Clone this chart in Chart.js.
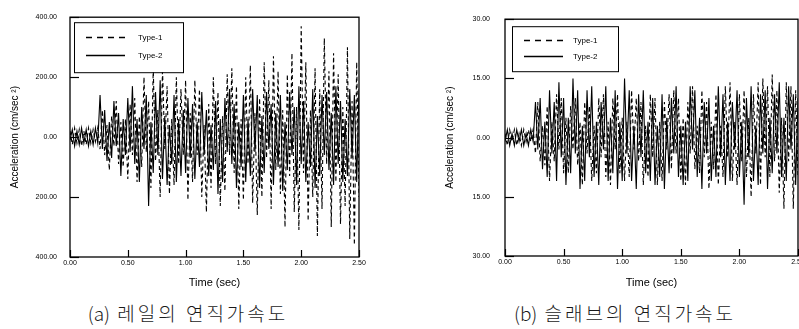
<!DOCTYPE html>
<html>
<head>
<meta charset="utf-8">
<script src="https://cdn.jsdelivr.net/npm/chart.js@4/dist/chart.umd.min.js"></script>
<style>
  html, body { margin: 0; padding: 0; background: #fff; }
  body { width: 799px; height: 329px; position: relative; overflow: hidden; }
  #wrapA { position: absolute; left: 0; top: 0; width: 400px; height: 290px; }
  #wrapB { position: absolute; left: 400px; top: 0; width: 399px; height: 290px; overflow: hidden; }
  .cap { position: absolute; top: 300px; font-family: "Noto Sans CJK KR", "Noto Sans", sans-serif;
         font-size: 19px; font-weight: 300; letter-spacing: 3px; color: #1a1a1a; text-align: center; white-space: nowrap; line-height: 26px; }
  .cap span { letter-spacing: 0; }
  #capA { left: 48px; width: 280px; }
  #capB { left: 485px; width: 280px; }
</style>
</head>
<body>
<div id="wrapA"><canvas id="chartA" width="400" height="290"></canvas></div>
<div id="wrapB"><canvas id="chartB" width="432" height="290"></canvas></div>
<div class="cap" id="capA"><span>(a)</span> 레일의 연직가속도</div>
<div class="cap" id="capB"><span>(b)</span> 슬래브의 연직가속도</div>
<script>
// ---- data (sampled every 0.02 s, 0.00 .. 2.50 s) ----
const timeStep = 0.02;
const seriesNames = ["Type-1", "Type-2"];
const xTickLabels = ["0.00", "0.50", "1.00", "1.50", "2.00", "2.50"];
const yTickLabelsA = ["400.00", "200.00", "0.00", "200.00", "400.00"];
const yTickLabelsB = ["30.00", "15.00", "0.00", "15.00", "30.00"];

// (a) rail vertical acceleration, cm/sec^2
const railType1 = [
  20,-25,30,-20,25,-30,20,-25,30,-20,25,-15,30,
  -40,90,-60,40,-110,70,-30,120,-90,50,-100,60,-140,
  110,-60,130,-150,70,-100,200,-50,120,-170,230,-80,90,-200,230,-40,170,-190,60,-160,200,-90,160,-60,190,
  -210,80,-150,190,-60,160,-200,40,-250,110,-170,200,-90,150,-230,70,-180,210,-60,230,-120,170,-240,60,-210,
  200,-90,240,-220,80,-260,130,-200,250,-70,190,-240,270,-110,220,-190,90,-300,210,-130,280,-250,100,-310,370,
  -120,250,-280,90,-200,230,-330,160,-240,330,-90,220,-300,280,-150,210,-290,100,-230,300,-340,120,-360,250,-200
];
const railType2 = [
  -10,25,-30,20,-25,30,-20,25,-30,20,-25,30,-20,
  140,-40,90,-80,50,-70,120,-30,80,-130,60,-60,130,
  -50,170,-90,60,-150,100,-40,140,-230,50,-120,150,-60,190,-140,70,-160,40,-90,140,-150,60,-130,90,-120,
  130,-70,110,-140,50,-100,150,-60,90,-130,40,-110,120,-190,60,-150,130,-50,160,-90,110,-170,50,-100,140,
  -150,60,-130,160,-50,140,-170,70,-120,150,-40,110,-160,80,-100,140,-180,50,-110,150,-60,100,-160,170,-90,
  120,-150,50,-100,160,-170,70,-130,140,-60,150,-110,80,-160,170,-90,120,-150,60,-130,160,-70,140,-150,160
];
// (b) slab vertical acceleration, cm/sec^2
const slabType1 = [
  1,-2,2,-1,2,-2,1,-2,2,-1,2,-1,2,
  -4,9,-6,3,-7,8,-11,4,-6,11,-3,10,-9,
  5,-9,8,-3,10,-7,4,-12,9,-4,8,-11,3,-9,10,-5,11,-10,4,-12,10,-3,11,-9,5,
  -11,4,-10,12,-3,10,-6,9,-12,3,-10,11,-5,10,-12,4,-11,9,-3,11,-8,12,-4,10,-11,
  5,-12,9,-4,13,-8,3,-9,12,-5,9,-13,4,-8,11,-12,3,-10,13,-5,14,-11,4,-12,11,
  -6,12,-10,5,-15,11,-4,14,-12,15,-5,13,-10,16,-6,12,-14,5,-18,14,-6,13,-18,12,-10
];
const slabType2 = [
  -1,2,-2,1,-2,2,-1,2,-2,1,-2,2,-1,
  9,-3,10,-8,4,-10,12,-4,9,-11,14,-5,10,
  -12,5,-9,15,-4,12,-13,3,-11,12,-5,13,-10,4,-12,9,-3,13,-11,5,-9,12,-13,4,-11,
  15,-4,12,-11,3,-13,11,-5,12,-9,4,-11,10,-12,3,-10,11,-13,5,-9,10,-4,13,-10,3,
  -12,4,-11,13,-3,12,-10,5,-13,9,-4,10,-11,3,-10,13,-5,11,-12,4,-11,9,-3,12,-10,
  4,-17,10,-5,13,-11,3,-12,11,-4,12,-13,5,-9,11,-4,14,-10,5,-11,13,-3,11,-12,10
];

function toPoints(arr) { return arr.map((v, i) => ({ x: +(i * timeStep).toFixed(2), y: v })); }

const framePlugin = {
  id: 'frame',
  afterDraw(chart, args, opts) {
    const { ctx, chartArea: a, scales } = chart;
    ctx.save();
    ctx.strokeStyle = '#000';
    ctx.lineWidth = 1.3;
    ctx.setLineDash([]);
    ctx.strokeRect(a.left, a.top, a.right - a.left, a.bottom - a.top);
    ctx.lineWidth = 1.2;
    scales.x.ticks.forEach(t => {
      const px = Math.round(scales.x.getPixelForValue(t.value)) + 0.5;
      ctx.beginPath(); ctx.moveTo(px, a.bottom); ctx.lineTo(px, a.bottom - 7); ctx.stroke();
    });
    scales.y.ticks.forEach(t => {
      const py = Math.round(scales.y.getPixelForValue(t.value)) + 0.5;
      ctx.beginPath(); ctx.moveTo(a.left, py); ctx.lineTo(a.left + 9, py); ctx.stroke();
    });
    // legend box
    const L = opts.box;
    const bx = a.left + L.dx, by = a.top + L.dy;
    ctx.fillStyle = '#fff';
    ctx.fillRect(bx, by, L.w, L.h);
    ctx.lineWidth = 1;
    ctx.strokeRect(bx + 0.5, by + 0.5, L.w, L.h);
    ctx.font = '8px "Liberation Sans", Arial, sans-serif';
    ctx.textBaseline = 'middle';
    ctx.fillStyle = '#000';
    chart.data.datasets.forEach((ds, i) => {
      const ly = Math.round(by + L.rows[i]) + 0.5;
      ctx.lineWidth = 1.6;
      ctx.setLineDash(ds.borderDash ? [6, 5] : []);
      ctx.beginPath(); ctx.moveTo(bx + L.lx0, ly); ctx.lineTo(bx + L.lx1, ly); ctx.stroke();
      ctx.setLineDash([]);
      ctx.fillText(ds.label, bx + L.tx, ly);
    });
    ctx.restore();
  }
};

function makeChart(id, s1, s2, yMax, yStep, yLabels, cfg) {
  const tickFont = { family: '"Liberation Sans", Arial, sans-serif', size: 7 };
  return new Chart(document.getElementById(id), {
    type: 'line',
    data: {
      datasets: [
        { label: seriesNames[0], data: toPoints(s1), borderColor: '#000', borderWidth: 1.1, borderDash: [4, 3], pointRadius: 0, tension: 0, fill: false },
        { label: seriesNames[1], data: toPoints(s2), borderColor: '#000', borderWidth: 1.1, pointRadius: 0, tension: 0, fill: false }
      ]
    },
    options: {
      responsive: false,
      animation: false,
      devicePixelRatio: 1,
      layout: { padding: cfg.padding },
      plugins: { legend: { display: false }, tooltip: { enabled: false }, frame: { box: cfg.box } },
      scales: {
        x: {
          type: 'linear', min: 0, max: 2.5,
          ticks: { stepSize: 0.5, color: '#000', font: tickFont, padding: 2, maxRotation: 0,
                   callback: (v) => xTickLabels[Math.round(v / 0.5)] },
          grid: { display: false, drawTicks: false },
          border: { display: false },
          title: { display: true, text: 'Time (sec)', color: '#000',
                   font: { family: '"Liberation Sans", Arial, sans-serif', size: 11 }, padding: { top: 0, bottom: 0 } },
          afterFit: (s) => { s.height = cfg.xHeight; }
        },
        y: {
          min: -yMax, max: yMax,
          ticks: { stepSize: yStep, color: '#000', font: tickFont, padding: cfg.yTickPad,
                   callback: (v) => yLabels[Math.round((yMax - v) / yStep)] },
          grid: { display: false, drawTicks: false },
          border: { display: false },
          title: { display: true, text: 'Acceleration (cm/sec ²)', color: '#000',
                   font: { family: '"Liberation Sans", Arial, sans-serif', size: 10 }, padding: { top: cfg.yTitlePad, bottom: 0 } },
          afterFit: (s) => { s.width = cfg.yWidth; }
        }
      }
    },
    plugins: [framePlugin]
  });
}

makeChart('chartA', railType1, railType2, 400, 200, yTickLabelsA, {
  padding: { left: 0, right: 41, top: 6, bottom: 0 },
  xHeight: 33, yWidth: 70, yTickPad: 13, yTitlePad: 9,
  box: { dx: 4, dy: 5, w: 109, h: 50, rows: [15, 33], lx0: 12, lx1: 51, tx: 64 }
});
makeChart('chartB', slabType1, slabType2, 30, 15, yTickLabelsB, {
  padding: { left: 38, right: 34, top: 7, bottom: 0 },
  xHeight: 34, yWidth: 67, yTickPad: 15, yTitlePad: 6,
  box: { dx: 7, dy: 7, w: 106, h: 45, rows: [14, 30], lx0: 12, lx1: 51, tx: 61 }
});
</script>
</body>
</html>
